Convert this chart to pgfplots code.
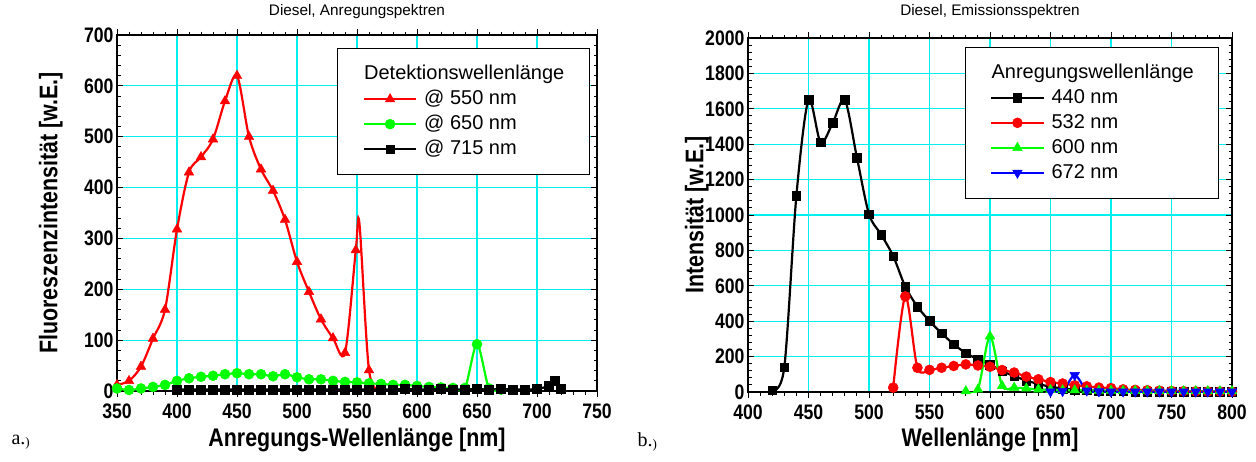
\documentclass[border=0pt]{standalone}
\usepackage{pgfplots}
\pgfplotsset{compat=1.18}
\usepackage{fontspec}
\setmainfont{Liberation Sans}
\newfontfamily\narrowfont[FakeStretch=0.84]{Liberation Sans}
\newfontfamily\seriffont{Liberation Serif}
\newcommand\tickfont{\narrowfont\bfseries\fontsize{21}{21}\selectfont}
\newcommand\labfont{\narrowfont\bfseries\fontsize{25.5}{25.5}\selectfont}
\newcommand\titfont{\fontsize{15.3}{15.3}\selectfont}
\newcommand\legfont{\fontsize{20}{20}\selectfont}

\pgfplotsset{
  mystyle/.style={
    scale only axis,
    axis line style={line width=1.2pt},
    grid=major,
    major grid style={color={rgb,255:red,0;green,240;blue,240}, line width=1.2pt},
    tick style={black, line width=0.9pt},
    major tick length=6pt, minor tick length=3.5pt,
    minor tick num=4,
    xtick align=outside, ytick align=inside,
    tick label style={font=\tickfont},
    xticklabel style={yshift=-3pt},
    label style={font=\labfont},
    /pgf/number format/assume math mode=true,
    /pgf/number format/set thousands separator={},
    title style={font=\titfont, anchor=base},
    legend style={font=\legfont, draw=black, line width=1pt, inner xsep=25pt, inner ysep=16pt,
      row sep=6pt, column sep=7pt, cells={anchor=west},
      nodes={inner sep=0pt, text height=15pt, text depth=4pt}},
    legend image code/.code={\draw[##1, mark indices={2}, line width=2.2pt] plot coordinates {(0pt,0pt) (26pt,0pt) (52pt,0pt)};},
  },
}

\pgfplotstableread{
x y
350 12
360 20
370 48
380 103
390 160
400 318
410 430
420 460
430 495
440 570
450 620
460 500
470 436
480 394
490 337
500 254
510 195
520 141
530 104
540 75
549 277
552 330
560 41
570 0
}\redA
\pgfplotstableread{
x y
350 5
360 2
370 5
380 8
390 12
400 20
410 25
420 28
430 30
440 33
450 35
460 33
470 33
480 29
490 33
500 27
510 23
520 23
530 20
540 18
550 17
560 15
570 14
580 12
590 12
600 10
610 8
620 7
630 6
640 6
650 92
660 5
670 3
}\greenA
\pgfplotstableread{
x y
400 3
410 3
420 3
430 3
440 3
450 3
460 3
470 3
480 3
490 3
500 3
510 3
520 3
530 3
540 3
550 3
560 3
570 3
580 3
590 4
600 3
610 3
620 4
630 3
640 3
650 4
660 3
670 4
680 3
690 3
700 4
710 10
715 20
720 5
}\blackA

\pgfplotstableread{
x y
420 10
430 140
440 1110
450 1650
460 1410
470 1520
480 1650
490 1325
500 1005
510 890
520 768
530 595
540 483
550 401
560 332
570 270
580 220
590 185
600 155
610 118
620 90
630 65
640 45
650 30
660 20
670 14
680 10
690 7
700 5
710 4
720 3
730 3
740 3
750 2
760 2
770 2
780 2
790 2
800 2
}\blackB
\pgfplotstableread{
x y
520 25
530 540
540 137
550 125
560 137
570 147
580 156
590 150
600 143
610 124
620 110
630 87
640 72
650 56
660 48
670 38
680 32
690 25
700 22
710 15
720 12
730 10
740 8
750 6
760 5
770 4
780 3
790 3
800 2
}\redB
\pgfplotstableread{
x y
580 5
590 15
600 315
610 35
620 25
630 20
640 15
650 12
660 10
670 10
680 9
690 8
700 8
710 7
720 7
730 6
740 6
750 6
760 5
770 5
780 5
790 5
800 5
}\greenB
\pgfplotstableread{
x y
650 2
660 5
670 95
680 8
690 3
700 2
710 2
720 2
730 2
740 2
750 2
760 2
770 2
780 2
790 2
800 2
}\blueB

\begin{document}
\begin{tikzpicture}
\useasboundingbox (0pt,-461pt) rectangle (1256pt,0pt);

\begin{axis}[mystyle,
  at={(117pt,-391pt)}, anchor=south west, width=480pt, height=356pt,
  xmin=350, xmax=750, ymin=0, ymax=700,
  xtick={350,400,...,750}, ytick={0,100,...,700},
  title={Diesel, Anregungspektren},
  title style={at={(axis description cs:0.5,1)}, yshift=14pt},
  xlabel={Anregungs-Wellenlänge [nm]},
  ylabel={Fluoreszenzintensität [w.E.]},
  xlabel style={at={(axis description cs:0.5,-0.138)}, anchor=center},
  ylabel style={at={(axis description cs:-0.138,0.5)}, anchor=center},
  legend style={at={(axis description cs:0.985,0.963)}, anchor=north east},
]
\addlegendimage{empty legend}
\addlegendentry{\hspace{-60pt}Detektionswellenlänge}
\addplot[red, line width=2.2pt, smooth, mark=triangle*, mark size=5.5pt,
  mark options={solid, fill=red, line width=0.5pt},
  mark indices={1,2,3,4,5,6,7,8,9,10,11,12,13,14,15,16,17,18,19,20,21,23,24}]
  table[x=x,y=y] {\redA};
\addlegendentry{@ 550 nm}
\addplot[green, line width=2.2pt, smooth, mark=*, mark size=5pt,
  mark options={solid, fill=green, line width=0.5pt}]
  table[x=x,y=y] {\greenA};
\addlegendentry{@ 650 nm}
\addplot[black, line width=2.2pt, smooth, mark=square*, mark size=4.3pt,
  mark options={solid, fill=black, line width=0.5pt}]
  table[x=x,y=y] {\blackA};
\addlegendentry{@ 715 nm}
\end{axis}

\begin{axis}[mystyle,
  at={(748pt,-392pt)}, anchor=south west, width=484pt, height=354pt,
  xmin=400, xmax=800, ymin=0, ymax=2000,
  xtick={400,450,...,800}, ytick={0,200,...,2000},
  title={Diesel, Emissionsspektren},
  title style={at={(axis description cs:0.5,1)}, yshift=17pt},
  xlabel={Wellenlänge [nm]},
  ylabel={Intensität [w.E.]},
  xlabel style={at={(axis description cs:0.5,-0.136)}, anchor=center},
  ylabel style={at={(axis description cs:-0.106,0.5)}, anchor=center},
  legend style={at={(axis description cs:0.974,0.975)}, anchor=north east},
]
\addlegendimage{empty legend}
\addlegendentry{\hspace{-60pt}Anregungswellenlänge}
\addplot[black, line width=2.2pt, smooth, mark=square*, mark size=4.3pt,
  mark options={solid, fill=black, line width=0.5pt}]
  table[x=x,y=y] {\blackB};
\addlegendentry{440 nm}
\addplot[red, line width=2.2pt, smooth, mark=*, mark size=5pt,
  mark options={solid, fill=red, line width=0.5pt}]
  table[x=x,y=y] {\redB};
\addlegendentry{532 nm}
\addplot[green, line width=2.2pt, smooth, mark=triangle*, mark size=5.5pt,
  mark options={solid, fill=green, line width=0.5pt}]
  table[x=x,y=y] {\greenB};
\addlegendentry{600 nm}
\addplot[blue, line width=2.2pt, smooth, mark=triangle*, mark size=5.5pt,
  mark options={solid, fill=blue, line width=0.5pt, rotate=180}]
  table[x=x,y=y] {\blueB};
\addlegendentry{672 nm}
\end{axis}

\node[anchor=west, font=\seriffont\fontsize{20}{20}\selectfont] at (8pt,-442pt) {a.\raisebox{-2pt}{\fontsize{13}{13}\selectfont)}};
\node[anchor=west, font=\seriffont\fontsize{20}{20}\selectfont] at (634pt,-442pt) {b.\raisebox{-2pt}{\fontsize{13}{13}\selectfont)}};
\end{tikzpicture}
\end{document}
